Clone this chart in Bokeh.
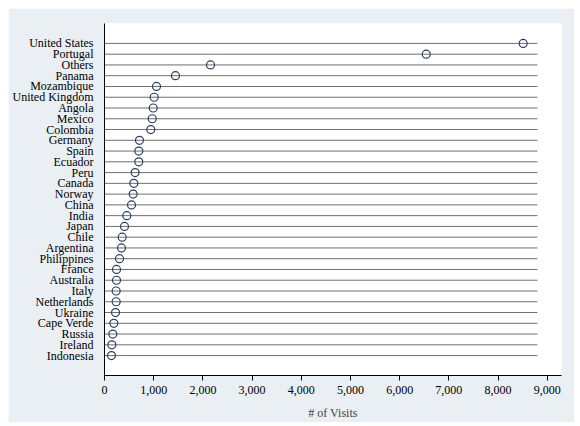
from bokeh.plotting import figure
from bokeh.models import FactorRange, Range1d, NumeralTickFormatter, ColumnDataSource, FixedTicker
from bokeh.embed import file_html
from bokeh.resources import INLINE

countries = ["United States", "Portugal", "Others", "Panama", "Mozambique", "United Kingdom",
             "Angola", "Mexico", "Colombia", "Germany", "Spain", "Ecuador", "Peru", "Canada",
             "Norway", "China", "India", "Japan", "Chile", "Argentina", "Philippines", "France",
             "Australia", "Italy", "Netherlands", "Ukraine", "Cape Verde", "Russia", "Ireland",
             "Indonesia"]
visits = [8510, 6540, 2155, 1443, 1057, 1010, 990, 970, 941, 711, 697, 697, 623, 596,
          583, 549, 453, 406, 359, 345, 305, 244, 244, 237, 237, 224, 190, 169, 149, 142]
x_ticks = [0, 1000, 2000, 3000, 4000, 5000, 6000, 7000, 8000, 9000]

LINE_START = 0
LINE_END = 8800
FONT = "Liberation Serif"

src = ColumnDataSource(dict(country=countries, visits=visits,
                            x0=[LINE_START] * len(countries), x1=[LINE_END] * len(countries)))

p = figure(width=566, height=414, output_backend="svg", toolbar_location=None,
           y_range=FactorRange(factors=list(reversed(countries)), range_padding=0.09),
           x_range=Range1d(0, 9290),
           background_fill_color="white", border_fill_color="#e9eff2",
           min_border_left=96, min_border_top=15, min_border_right=13, min_border_bottom=46)
p.margin = (8, 0, 0, 8)
p.outline_line_color = None
p.grid.visible = False

p.segment(x0="x0", x1="x1", y0="country", y1="country", source=src,
          line_color="#6e6e6e", line_width=1)
p.scatter(x="visits", y="country", source=src, size=8, marker="circle",
          fill_color=None, line_color="#2b3f5c", line_width=1.2)

p.xaxis.ticker = FixedTicker(ticks=x_ticks)
p.xaxis.formatter = NumeralTickFormatter(format="0,0")
p.xaxis.axis_label = "# of Visits"
p.xaxis.axis_label_text_font = FONT
p.xaxis.axis_label_text_font_style = "normal"
p.xaxis.axis_label_text_font_size = "12px"
p.xaxis.axis_label_standoff = 9
p.xaxis.major_label_text_font = FONT
p.xaxis.major_label_text_font_size = "12px"
p.xaxis.major_label_standoff = 5
p.xaxis.minor_tick_line_color = None
p.xaxis.major_tick_in = 0
p.xaxis.major_tick_out = 5
p.xaxis.axis_line_color = "black"
p.xaxis.major_tick_line_color = "black"

p.yaxis.major_tick_line_color = None
p.yaxis.minor_tick_line_color = None
p.yaxis.major_label_text_font = FONT
p.yaxis.major_label_text_font_size = "12px"
p.yaxis.major_label_standoff = 5
p.yaxis.axis_line_color = "black"
p.yaxis.major_label_text_color = "black"
p.xaxis.major_label_text_color = "black"

open("out.html", "w").write(file_html(p, INLINE))
